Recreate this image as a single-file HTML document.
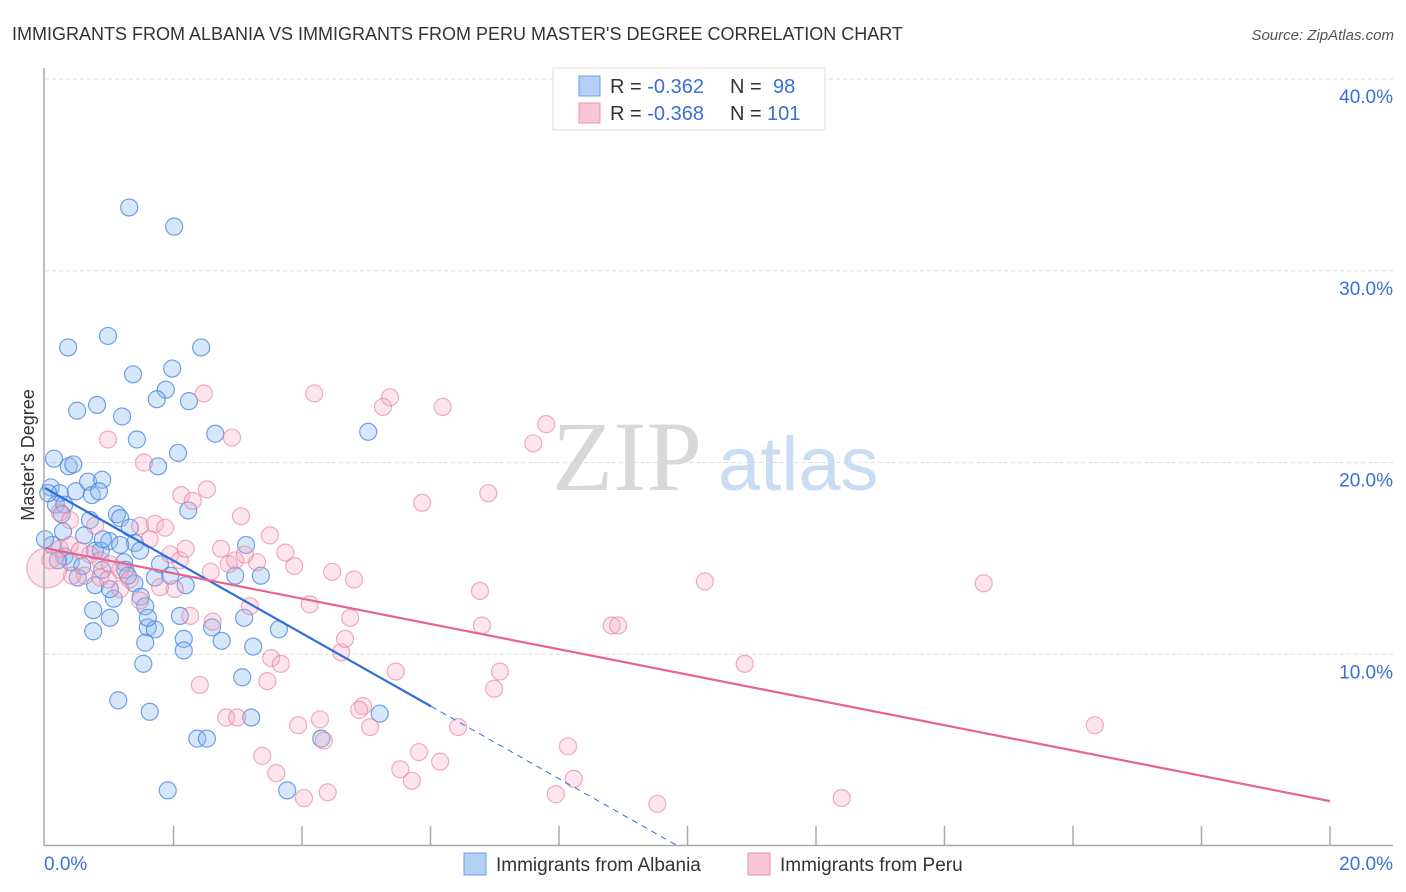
<!DOCTYPE html>
<html><head><meta charset="utf-8"><style>
body{margin:0;background:#fff;font-family:"Liberation Sans",sans-serif;}
svg{display:block}
</style></head><body>
<svg id="chart" width="1406" height="892">
<text x="12" y="40" font-size="18" fill="#333">IMMIGRANTS FROM ALBANIA VS IMMIGRANTS FROM PERU MASTER'S DEGREE CORRELATION CHART</text>
<text x="1394" y="40" font-size="15" fill="#555" font-style="italic" text-anchor="end">Source: ZipAtlas.com</text>
<g>
<text x="552" y="490" font-family="Liberation Serif,serif" font-size="100" fill="#d8d8d8">ZIP</text>
<text x="718" y="490" font-size="76" fill="#c9dcf3">atlas</text>
</g>
<g id="grid"></g>
<g id="pts"></g>
<g id="lines"></g>
<line x1="44" y1="68" x2="44" y2="846" stroke="#aaa" stroke-width="1.5"/>
<line x1="44" y1="845.5" x2="1393" y2="845.5" stroke="#aaa" stroke-width="1.5"/>
<text transform="translate(34,455) rotate(-90)" font-size="18" fill="#333" text-anchor="middle">Master's Degree</text>
<text x="44" y="870" font-size="19" fill="#3a6fd8">0.0%</text>
<text x="1393" y="870" font-size="19" fill="#3a6fd8" text-anchor="end">20.0%</text>
<g>
<rect x="553" y="68" width="272" height="62" fill="#fff" stroke="#ddd"/>
<rect x="579" y="76" width="21" height="20" fill="#b5d0f5" stroke="#6b9be0"/>
<rect x="579" y="103" width="21" height="20" fill="#f8c6d6" stroke="#e993b0"/>
<text x="610" y="93" font-size="20" fill="#333">R = <tspan fill="#3a6fd8">-0.362</tspan><tspan x="730">N = </tspan><tspan x="773" fill="#3a6fd8">98</tspan></text>
<text x="610" y="120" font-size="20" fill="#333">R = <tspan fill="#3a6fd8">-0.368</tspan><tspan x="730">N = </tspan><tspan x="767" fill="#3a6fd8">101</tspan></text>
</g>
<g>
<rect x="464" y="853" width="22" height="22" fill="#b5d0f5" stroke="#6b9be0"/>
<text x="496" y="871" font-size="19" fill="#333">Immigrants from Albania</text>
<rect x="748" y="853" width="22" height="22" fill="#f8c6d6" stroke="#e993b0"/>
<text x="780" y="871" font-size="19" fill="#333">Immigrants from Peru</text>
</g>
</svg>
<script>
const yTicks=[10,20,30,40];
const yTickLabels=["10.0%","20.0%","30.0%","40.0%"];
const xTicks=[2,4,6,8,10,12,14,16,18,20];
const albaniaX=[1.31,2.01,0.36,0.98,2.43,1.37,1.98,1.88,1.74,2.24,0.50,0.81,1.20,5.03,2.65,1.43,2.07,0.14,0.37,0.44,1.76,0.67,0.89,0.09,0.23,0.48,0.73,0.84,0.17,0.30,0.26,2.23,1.12,1.17,1.32,0.28,0.61,1.00,1.40,3.13,0.11,0.78,0.87,0.30,0.40,1.23,1.25,2.19,3.36,2.96,0.51,1.39,1.71,0.58,0.89,1.49,1.07,0.75,1.56,0.75,1.01,2.10,3.10,3.64,1.60,1.71,1.60,2.16,2.60,2.75,1.56,2.16,3.24,1.53,3.07,1.14,1.63,3.21,5.21,2.37,2.52,4.30,1.91,3.77,0.05,0.0,0.2,0.70,0.9,1.17,1.79,1.48,0.78,1.01,1.29,1.95];
const albaniaY=[33.3,32.3,26.0,26.6,26.0,24.6,24.9,23.8,23.3,23.2,22.7,23.0,22.4,21.6,21.5,21.2,20.5,20.2,19.8,19.9,19.8,19.0,19.1,18.7,18.4,18.5,18.3,18.5,17.8,17.8,17.3,17.5,17.3,17.1,16.6,16.4,16.2,15.9,15.8,15.7,15.7,15.4,15.4,15.1,14.8,14.8,14.4,13.6,14.1,14.1,14.0,13.7,14.0,14.6,14.4,13.0,12.9,12.3,12.5,11.2,11.9,12.0,11.9,11.3,11.4,11.3,11.9,10.8,11.4,10.7,10.6,10.2,10.4,9.5,8.8,7.6,7.0,6.7,6.9,5.6,5.6,5.6,2.9,2.9,18.4,16.0,14.9,17.0,16.0,15.7,14.7,15.4,13.6,13.4,14.1,14.1];
const peruX=[0.98,2.91,1.54,2.47,4.19,5.37,5.26,6.19,7.80,7.60,6.90,5.87,2.12,2.30,2.52,3.05,3.50,2.74,3.74,2.86,3.30,2.58,3.88,4.47,4.81,6.77,10.27,14.61,8.82,8.92,6.80,4.75,4.12,2.26,2.61,3.19,4.61,4.67,3.52,3.67,5.46,7.08,6.99,10.89,2.41,3.46,2.82,2.99,4.28,3.94,4.34,4.95,4.89,5.06,5.82,6.15,6.43,8.14,3.38,3.60,4.03,4.40,5.53,5.71,7.95,8.23,9.53,12.40,16.34,0.08,0.23,0.39,0.54,0.70,0.86,1.01,1.17,1.32,1.48,1.71,1.87,0.23,0.39,0.78,1.63,1.95,2.10,2.19,2.02,1.79,1.17,0.62,0.42,0.86,1.48,0.98,2.96,3.11,0.03];
const peruY=[21.2,21.3,20.0,23.6,23.6,23.4,22.9,22.9,22.0,21.0,18.4,17.9,18.3,18.0,18.6,17.2,16.2,15.5,15.3,14.7,14.8,14.3,14.6,14.3,13.9,13.3,13.8,13.7,11.5,11.5,11.5,11.9,12.6,12.0,11.7,12.5,10.1,10.8,9.8,9.5,9.1,9.1,8.2,9.5,8.4,8.6,6.7,6.7,6.6,6.3,5.5,7.3,7.1,6.2,4.9,4.4,6.2,5.2,4.7,3.8,2.5,2.8,4.0,3.4,2.7,3.5,2.2,2.5,6.3,14.9,15.5,15.7,15.4,15.2,14.9,14.7,14.4,13.9,16.7,16.8,16.6,17.4,17.0,16.7,16.0,15.2,14.9,15.5,13.4,13.5,13.4,14.1,14.1,14.0,12.8,13.9,14.9,15.2,14.5];
const peruR=peruX.map((v,i)=>i===peruX.length-1?20:8.5);
const albaniaTrend=[18.67,-1.895]; // intercept, slope
const peruTrend=[15.54,-0.66];
const albaniaSolidEnd=6.01;

const NS="http://www.w3.org/2000/svg";
const X0=45,X1=1330,Y0=846,PXPER=19.175;
const sx=v=>X0+(X1-X0)*v/20;
const sy=v=>Y0-v*PXPER;
function mk(tag,attrs,parent){const e=document.createElementNS(NS,tag);for(const k in attrs)e.setAttribute(k,attrs[k]);parent.appendChild(e);return e;}
const grid=document.getElementById('grid');
yTicks.forEach((t,i)=>{
 const l=mk('line',{x1:45,x2:1393,y1:sy(t),y2:sy(t),stroke:'#ddd','stroke-dasharray':'4,3'},grid);
 
 
 const tx=mk('text',{x:1393,y:sy(t)+24,'font-size':19,fill:'#3a6fd8','text-anchor':'end'},grid);
 tx.textContent=yTickLabels[i];
 
 
});
const gl=mk('line',{x1:45,x2:1393,y1:sy(40),y2:sy(40),stroke:'#ddd','stroke-dasharray':'4,3'},grid);
xTicks.forEach(t=>{
 const l=mk('line',{x1:sx(t),x2:sx(t),y1:826,y2:846,stroke:'#aaa','stroke-width':1.5},grid);
 
 
});
const pts=document.getElementById('pts');
albaniaX.forEach((x,i)=>{
 const c=mk('circle',{cx:sx(x),cy:sy(albaniaY[i]),r:8.5,fill:'rgba(140,185,240,0.35)',stroke:'rgba(70,130,220,0.75)','stroke-width':1.2},pts);
 
 
});
peruX.forEach((x,i)=>{
 const c=mk('circle',{cx:sx(x),cy:sy(peruY[i]),r:peruR[i],fill:'rgba(244,170,195,0.3)',stroke:'rgba(230,120,155,0.6)','stroke-width':1.2},pts);
 
 
});
const lines=document.getElementById('lines');
const f=(tr,x)=>tr[0]+tr[1]*x;
let a=mk('line',{x1:sx(0),y1:sy(f(albaniaTrend,0)),x2:sx(albaniaSolidEnd),y2:sy(f(albaniaTrend,albaniaSolidEnd)),stroke:'#2e6fd8','stroke-width':2.2},lines);


const zx=-albaniaTrend[0]/albaniaTrend[1];
let b=mk('line',{x1:sx(albaniaSolidEnd),y1:sy(f(albaniaTrend,albaniaSolidEnd)),x2:sx(zx),y2:sy(0),stroke:'#2e6fd8','stroke-width':1,'stroke-dasharray':'6,5'},lines);


let p=mk('line',{x1:sx(0),y1:sy(f(peruTrend,0)),x2:sx(20),y2:sy(f(peruTrend,20)),stroke:'#e8648f','stroke-width':2.2},lines);


</script>
</body></html>
